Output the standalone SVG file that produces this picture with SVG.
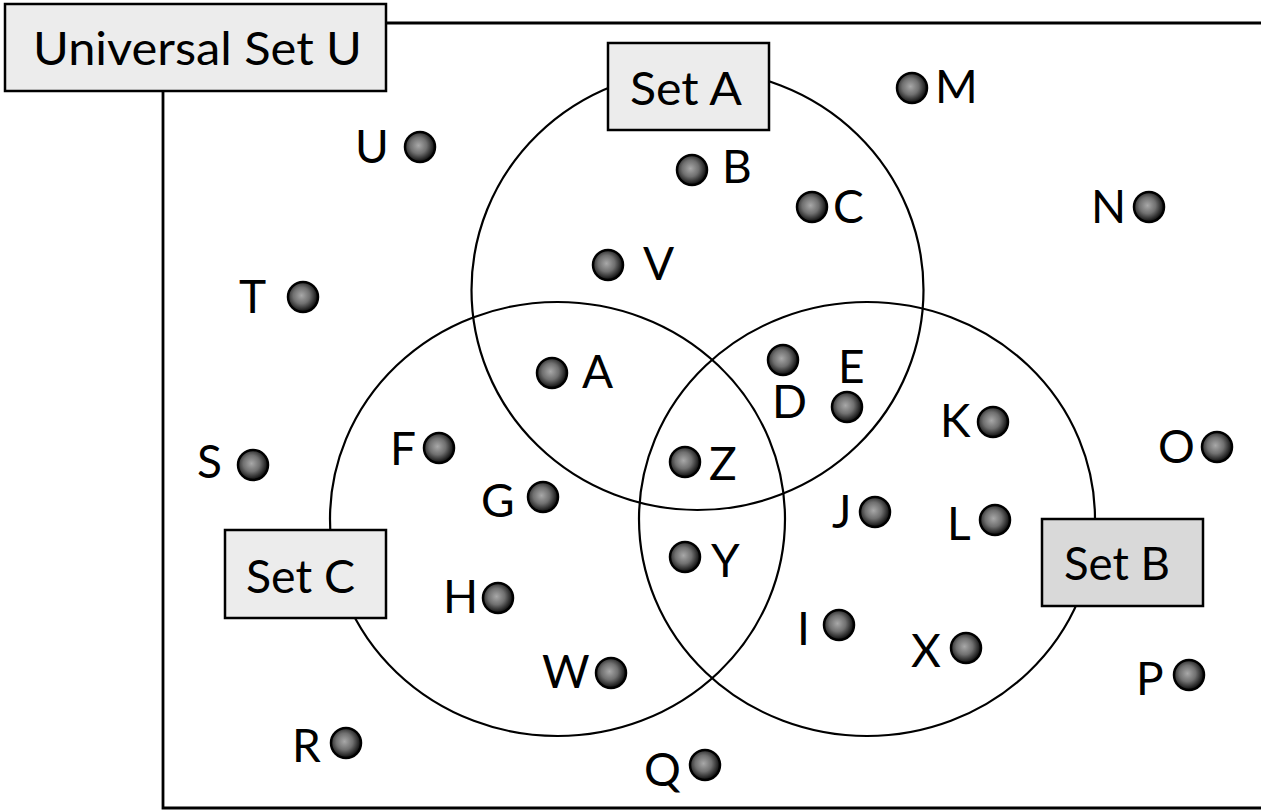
<svg xmlns="http://www.w3.org/2000/svg" width="1261" height="810" viewBox="0 0 1261 810">
<style>
.frame{fill:none;stroke:#000;stroke-width:2.8}
.set{fill:none;stroke:#000;stroke-width:2.2}
.box{fill:#ececec;stroke:#000;stroke-width:2.5}
.boxB{fill:#d9d9d9;stroke:#000;stroke-width:2.5}
.big{font-family:Lato,"Liberation Sans",sans-serif;font-size:47px;fill:#000}
.lbl{font-family:Lato,"Liberation Sans",sans-serif;font-size:46px;fill:#000}
.dot{fill:url(#dg);stroke:#000;stroke-width:2.5}
</style>
<defs>
<radialGradient id="dg" cx="0.45" cy="0.45" r="0.55">
<stop offset="0" stop-color="#a8a8a8"/>
<stop offset="0.5" stop-color="#707070"/>
<stop offset="1" stop-color="#0a0a0a"/>
</radialGradient>
</defs>
<rect width="1261" height="810" fill="#fff"/>
<g id="frame">
<path class="frame" d="M386 23 H1261"/>
<path class="frame" d="M163 91 V808 H1261"/>
</g>
<g id="sets">
<ellipse id="circleA" class="set" cx="697.5" cy="290" rx="226" ry="220"/>
<ellipse id="circleB" class="set" cx="867" cy="519" rx="228" ry="217"/>
<ellipse id="circleC" class="set" cx="557.5" cy="519" rx="227.5" ry="217"/>
</g>
<g id="universal-label">
<rect class="box" x="5" y="4" width="381" height="87"/>
<text class="big" x="33" y="65" textLength="329" lengthAdjust="spacingAndGlyphs">Universal Set U</text>
</g>
<g id="setA-label">
<rect class="box" x="608" y="43" width="161" height="87"/>
<text class="big" x="630" y="105" textLength="112" lengthAdjust="spacingAndGlyphs">Set A</text>
</g>
<g id="setB-label">
<rect class="boxB" x="1042" y="519" width="161" height="87"/>
<text class="big" x="1064" y="580" textLength="106" lengthAdjust="spacingAndGlyphs">Set B</text>
</g>
<g id="setC-label">
<rect class="box" x="225" y="530" width="161" height="88"/>
<text class="big" x="246" y="593" textLength="109" lengthAdjust="spacingAndGlyphs">Set C</text>
</g>
<g id="elements">
<g id="el-U"><circle class="dot" cx="420" cy="147" r="15"/><text class="lbl" x="355" y="163">U</text></g>
<g id="el-B"><circle class="dot" cx="692" cy="170" r="15"/><text class="lbl" x="722" y="183">B</text></g>
<g id="el-C"><circle class="dot" cx="812" cy="207" r="15"/><text class="lbl" x="833" y="223">C</text></g>
<g id="el-M"><circle class="dot" cx="912" cy="88" r="15"/><text class="lbl" x="935" y="103">M</text></g>
<g id="el-N"><circle class="dot" cx="1149" cy="207" r="15"/><text class="lbl" x="1091" y="223">N</text></g>
<g id="el-V"><circle class="dot" cx="608" cy="265" r="15"/><text class="lbl" x="643" y="280">V</text></g>
<g id="el-T"><circle class="dot" cx="303" cy="297" r="15"/><text class="lbl" x="239" y="313">T</text></g>
<g id="el-S"><circle class="dot" cx="253" cy="465" r="15"/><text class="lbl" x="197" y="478">S</text></g>
<g id="el-F"><circle class="dot" cx="439" cy="448" r="15"/><text class="lbl" x="390" y="465">F</text></g>
<g id="el-A"><circle class="dot" cx="552" cy="373" r="15"/><text class="lbl" x="582" y="388">A</text></g>
<g id="el-G"><circle class="dot" cx="543" cy="497" r="15"/><text class="lbl" x="481" y="517">G</text></g>
<g id="el-Z"><circle class="dot" cx="685" cy="462" r="15"/><text class="lbl" x="709" y="480">Z</text></g>
<g id="el-Y"><circle class="dot" cx="685" cy="557" r="15"/><text class="lbl" x="711" y="577">Y</text></g>
<g id="el-D"><circle class="dot" cx="783" cy="360" r="15"/><text class="lbl" x="772" y="418">D</text></g>
<g id="el-E"><circle class="dot" cx="847" cy="407" r="15"/><text class="lbl" x="838" y="383">E</text></g>
<g id="el-K"><circle class="dot" cx="993" cy="422" r="15"/><text class="lbl" x="940" y="437">K</text></g>
<g id="el-O"><circle class="dot" cx="1217" cy="447" r="15"/><text class="lbl" x="1158" y="463">O</text></g>
<g id="el-J"><circle class="dot" cx="875" cy="512" r="15"/><text class="lbl" x="832" y="528">J</text></g>
<g id="el-L"><circle class="dot" cx="995" cy="520" r="15"/><text class="lbl" x="947" y="540">L</text></g>
<g id="el-H"><circle class="dot" cx="498" cy="598" r="15"/><text class="lbl" x="443" y="613">H</text></g>
<g id="el-W"><circle class="dot" cx="611" cy="673" r="15"/><text class="lbl" x="542" y="688">W</text></g>
<g id="el-R"><circle class="dot" cx="346" cy="743" r="15"/><text class="lbl" x="292" y="762">R</text></g>
<g id="el-Q"><circle class="dot" cx="705" cy="765" r="15"/><text class="lbl" x="644" y="786">Q</text></g>
<g id="el-I"><circle class="dot" cx="839" cy="625" r="15"/><text class="lbl" x="797" y="645">I</text></g>
<g id="el-X"><circle class="dot" cx="966" cy="648" r="15"/><text class="lbl" x="911" y="667">X</text></g>
<g id="el-P"><circle class="dot" cx="1189" cy="675" r="15"/><text class="lbl" x="1136" y="695">P</text></g>
</g>
</svg>
